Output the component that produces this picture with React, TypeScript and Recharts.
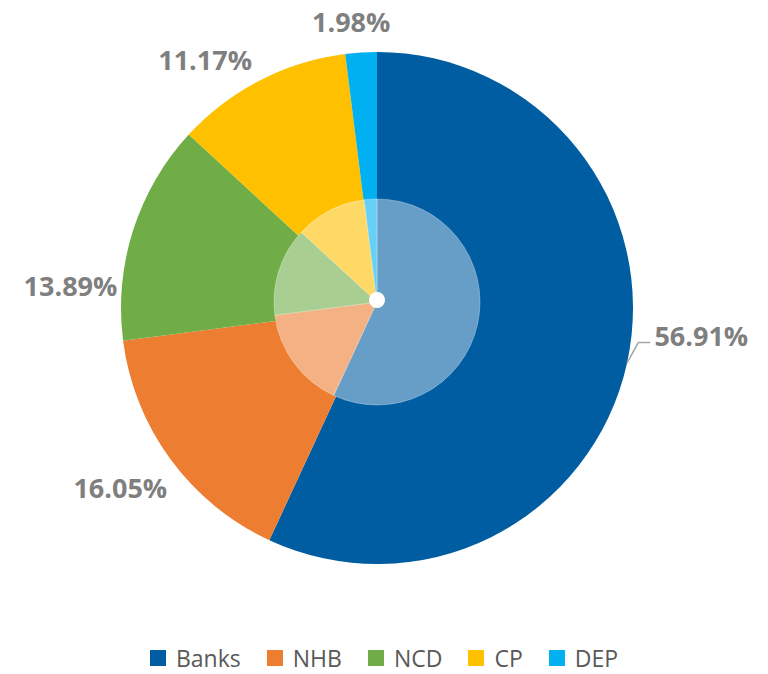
import React from 'react';
import { PieChart, Pie, Cell, Legend } from 'recharts';

const categories = ['Banks', 'NHB', 'NCD', 'CP', 'DEP'];
const shares = [56.91, 16.05, 13.89, 11.17, 1.98];
const colors = ['#005DA1', '#ED7D31', '#70AD47', '#FFC000', '#00B0F0'];
const lightColors = ['#669EC7', '#F4B183', '#A9CE91', '#FFD966', '#66D0F6'];
// label nudges from the radial anchor point, per slice
const labelNudge = [
  [45, -34],
  [-26, 10],
  [-34, 64],
  [-41, 6],
  [-8, -1],
];

const data = categories.map((name, i) => ({ name, value: shares[i] }));
const dot = [{ name: 'dot', value: 1 }];

const RADIAN = Math.PI / 180;
const CX = 377;
const CY = 308;

const renderLabel = (props: any) => {
  const { midAngle, outerRadius, index, value } = props;
  const r = outerRadius + 30;
  const ax = CX + r * Math.cos(-midAngle * RADIAN);
  const ay = CY + r * Math.sin(-midAngle * RADIAN);
  const x = ax + labelNudge[index][0];
  const y = ay + labelNudge[index][1];
  const text = value.toFixed(2) + '%';
  let leader = null;
  if (index === 0) {
    const sx = CX + outerRadius * Math.cos(-midAngle * RADIAN);
    const sy = CY + outerRadius * Math.sin(-midAngle * RADIAN);
    const ex = x - 51;
    const ey = y + 7;
    leader = (
      <polyline
        points={`${sx},${sy} ${ex - 12},${ey} ${ex},${ey}`}
        fill="none"
        stroke="#A6A6A6"
        strokeWidth={1.5}
      />
    );
  }
  return (
    <g>
      {leader}
      <text
        x={x}
        y={y}
        textAnchor="middle"
        dominantBaseline="central"
        fill="#7F7F7F"
        fontFamily="'Open Sans', sans-serif"
        fontWeight={700}
        fontSize={27}
      >
        {text}
      </text>
    </g>
  );
};

const renderLegend = () => (
  <div
    style={{
      display: 'flex',
      justifyContent: 'center',
      alignItems: 'center',
      fontFamily: "'Open Sans', sans-serif",
      fontSize: 23,
      lineHeight: '32px',
      color: '#595959',
    }}
  >
    {categories.map((name, i) => (
      <div key={name} style={{ display: 'flex', alignItems: 'center', marginRight: i < categories.length - 1 ? 26 : 0 }}>
        <span style={{ display: 'inline-block', width: 16, height: 16, background: colors[i], marginRight: 10 }} />
        <span>{name}</span>
      </div>
    ))}
  </div>
);

export default function App() {
  return (
    <div style={{ position: 'absolute', left: 0, top: 0, width: 768, height: 674, background: '#fff' }}>
      <PieChart width={768} height={674} margin={{ top: 0, right: 0, bottom: 0, left: 0 }}>
        <Pie
          data={data}
          dataKey="value"
          cx={CX}
          cy={CY}
          outerRadius={256}
          startAngle={90}
          endAngle={-270}
          stroke="none"
          label={renderLabel}
          labelLine={false}
          isAnimationActive={false}
        >
          {data.map((d, i) => (
            <Cell key={d.name} fill={colors[i]} />
          ))}
        </Pie>
        <Pie
          data={data}
          dataKey="value"
          cx={CX}
          cy={302}
          outerRadius={103}
          startAngle={90}
          endAngle={-270}
          stroke="#ffffff"
          strokeOpacity={0.3}
          strokeWidth={1}
          isAnimationActive={false}
        >
          {data.map((d, i) => (
            <Cell key={d.name} fill={lightColors[i]} />
          ))}
        </Pie>
        <Pie
          data={dot}
          dataKey="value"
          cx={CX}
          cy={300}
          outerRadius={8}
          stroke="none"
          fill="#ffffff"
          isAnimationActive={false}
        />
        <Legend
          content={renderLegend}
          wrapperStyle={{ position: 'absolute', top: 642, left: 0, width: 768, height: 32 }}
        />
      </PieChart>
    </div>
  );
}
